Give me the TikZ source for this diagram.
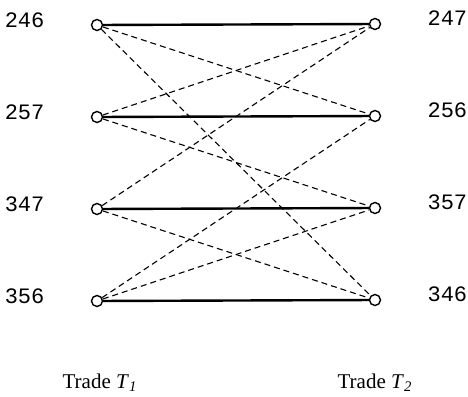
\documentclass[tikz,border=0pt]{standalone}
\usepackage{fontspec}
\setmainfont{Liberation Serif}
\setmonofont{Liberation Mono}
\usetikzlibrary{positioning}

\begin{document}
\begin{tikzpicture}[
    x=0.5pt, y=-0.5pt,
    vtx/.style={draw, circle, fill=white, inner sep=0pt, minimum size=5.5pt, line width=0.7pt},
    num/.style={font=\ttfamily\fontsize{11}{12}\selectfont, inner sep=0pt},
    pair/.style={line width=1.2pt},
    link/.style={line width=0.55pt, dash pattern=on 3pt off 2pt},
    tradelbl/.style={font=\fontsize{10.5}{12}\selectfont, inner sep=0pt}
]
    \useasboundingbox (0,0) rectangle (468,397);

    % trade T1
    \node[vtx] (a246) at (97,25) {};
    \node[vtx] (a257) at (97,117) {};
    \node[vtx] (a347) at (97,209) {};
    \node[vtx] (a356) at (97,301) {};
    % trade T2
    \node[vtx] (b247) at (375,24) {};
    \node[vtx] (b256) at (375,116) {};
    \node[vtx] (b357) at (375,208) {};
    \node[vtx] (b346) at (375,300) {};

    \foreach \n in {246,257,347,356}
        \node[num, left=23pt of a\n, yshift=2.5pt] (l\n) {\n};
    \foreach \n in {247,256,357,346}
        \node[num, right=23pt of b\n, yshift=3pt] (r\n) {\n};

    \draw[pair] (a246) -- (b247);
    \draw[pair] (a257) -- (b256);
    \draw[pair] (a347) -- (b357);
    \draw[pair] (a356) -- (b346);

    \draw[link] (a246) -- (b256);
    \draw[link] (a246) -- (b346);
    \draw[link] (a257) -- (b247);
    \draw[link] (a257) -- (b357);
    \draw[link] (a347) -- (b247);
    \draw[link] (a347) -- (b346);
    \draw[link] (a356) -- (b256);
    \draw[link] (a356) -- (b357);

    \node[tradelbl] (t1) at (100,383) {Trade \textit{T}\textsubscript{\textit{1}}};
    \node[tradelbl] (t2) at (375,383) {Trade \textit{T}\textsubscript{\textit{2}}};
\end{tikzpicture}
\end{document}
